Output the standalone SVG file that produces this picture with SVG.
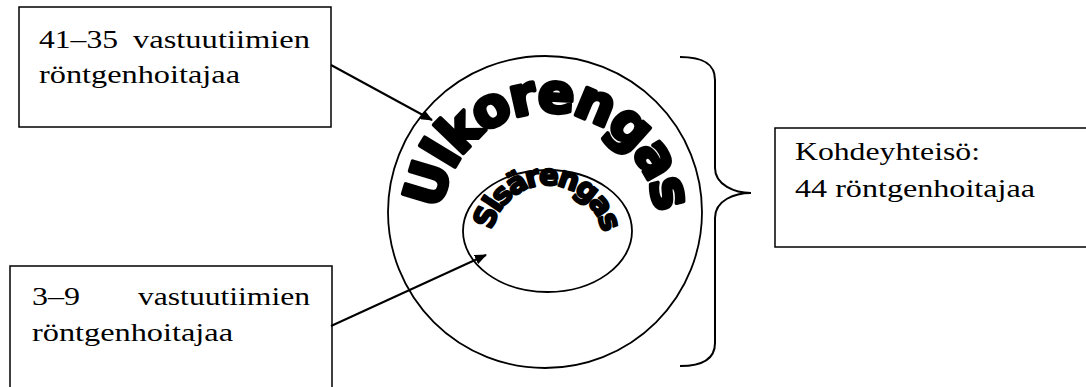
<svg xmlns="http://www.w3.org/2000/svg" width="1086" height="387" viewBox="0 0 1086 387">
<style>
.box{fill:#fff;stroke:#000;stroke-width:1.5}
.lbl{font-family:"Liberation Serif","Times New Roman",serif;font-size:25px;fill:#000}
.ring{fill:none;stroke:#000;stroke-width:1.8}
.conn{fill:none;stroke:#000;stroke-width:2}
.art{font-family:"DejaVu Sans",sans-serif;font-weight:bold;fill:#000;stroke:#000;stroke-linejoin:round}
</style>
<defs>
<marker id="ah" viewBox="0 0 12 10" refX="11" refY="5" markerWidth="12" markerHeight="10" markerUnits="userSpaceOnUse" orient="auto">
<path d="M0,0 L12,5 L0,10 z" fill="#000"/>
</marker>
<path id="outerArc" d="M440,224 A108,112 0 0 1 656,224"/>
<path id="innerArc" d="M490,246 A57,61 0 0 1 604,246"/>
</defs>
<g id="rings">
<ellipse class="ring" cx="545" cy="212" rx="157" ry="156"/>
<ellipse class="ring" cx="547.5" cy="231" rx="84.5" ry="61"/>
<text class="art" font-size="54" stroke-width="4" letter-spacing="-2.5"><textPath href="#outerArc" startOffset="50%" text-anchor="middle">Ulkorengas</textPath></text>
<text class="art" font-size="29" stroke-width="2.2" letter-spacing="-2.6"><textPath href="#innerArc" startOffset="50%" text-anchor="middle">Sisärengas</textPath></text>
</g>
<g id="box1">
<rect class="box" x="19" y="7" width="312" height="120"/>
<text class="lbl" x="39" y="48" textLength="79" lengthAdjust="spacingAndGlyphs">41–35</text>
<text class="lbl" x="133" y="48" textLength="177" lengthAdjust="spacingAndGlyphs">vastuutiimien</text>
<text class="lbl" x="39" y="83" textLength="201" lengthAdjust="spacingAndGlyphs">röntgenhoitajaa</text>
</g>
<g id="box2">
<rect class="box" x="10" y="266" width="322" height="122"/>
<text class="lbl" x="32" y="305" textLength="48" lengthAdjust="spacingAndGlyphs">3–9</text>
<text class="lbl" x="138" y="305" textLength="172" lengthAdjust="spacingAndGlyphs">vastuutiimien</text>
<text class="lbl" x="32" y="341" textLength="201" lengthAdjust="spacingAndGlyphs">röntgenhoitajaa</text>
</g>
<g id="box3">
<rect class="box" x="775" y="128" width="320" height="119"/>
<text class="lbl" x="795" y="160" textLength="185" lengthAdjust="spacingAndGlyphs">Kohdeyhteisö:</text>
<text class="lbl" x="795" y="197" textLength="240" lengthAdjust="spacingAndGlyphs">44 röntgenhoitajaa</text>
</g>
<g id="brace">
<path class="conn" d="M680,57 C700,57 715,62 715,80 L715,168 C715,185 735,193 751,193 C735,193 715,200 715,218 L715,343 C715,360 700,366 680,366"/>
</g>
<g id="connectors">
<line class="conn" x1="331" y1="65" x2="432" y2="120" marker-end="url(#ah)"/>
<line class="conn" x1="331" y1="326" x2="486" y2="255" marker-end="url(#ah)"/>
</g>
</svg>
